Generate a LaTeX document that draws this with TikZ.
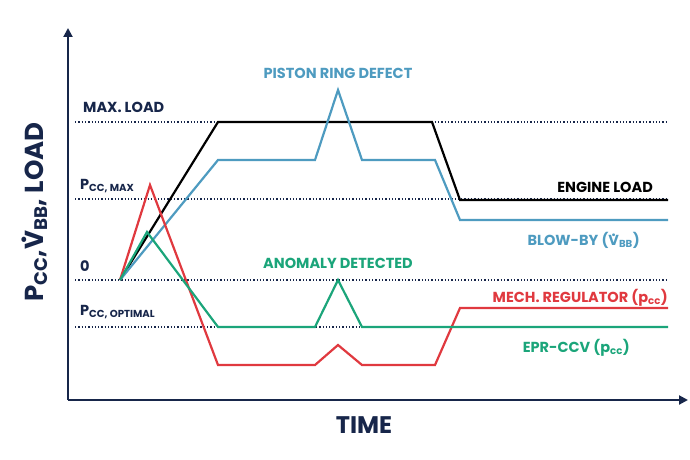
\documentclass[tikz,border=0pt]{standalone}
\usepackage{fontspec}
\setmainfont{Poppins}
\usetikzlibrary{arrows.meta}
\definecolor{navy}{HTML}{17264A}
\definecolor{cblue}{HTML}{4E9BC0}
\definecolor{cred}{HTML}{E0393F}
\definecolor{cgreen}{HTML}{1BA57A}
\newcommand{\vdotV}{\ooalign{V\cr\hidewidth\raisebox{0.62em}{.}\hidewidth\cr}}
\tikzset{
 lbl/.style={font=\bfseries\fontsize{14.5}{15}\selectfont, inner sep=0pt},
 dot/.style={navy, line width=1.3pt, dotted},
 curve/.style={line width=2.2pt, line join=miter},
 ax/.style={navy, line width=2pt, -{Triangle[length=9pt,width=9pt]}}
}
\begin{document}
\begin{tikzpicture}[x=1pt,y=-1pt]
\useasboundingbox (0,0) rectangle (690,460);
\coordinate (o) at (68,400);
\coordinate (ytop) at (68,28);
\coordinate (xend) at (688,400);
\draw[ax] (o) -- (ytop);
\draw[ax] (o) -- (xend);
\foreach \y in {122,199,280,327} \draw[dot] (75,\y) -- (668,\y);
\draw[curve,black] (120,280) -- (218,122) -- (432,122) -- (460,200) -- (668,200);
\draw[curve,cblue] (120,280) -- (218,160) -- (315,160) -- (338,90) -- (362,160) -- (435,160) -- (460,220) -- (668,220);
\draw[curve,cred] (120,280) -- (150,185) -- (218,365) -- (315,365) -- (338,345) -- (362,365) -- (435,365) -- (460,308) -- (668,308);
\draw[curve,cgreen] (120,280) -- (147,232) -- (218,327) -- (315,327) -- (338,280) -- (362,327) -- (668,327);
\node[lbl,navy,anchor=west] (ml) at (83,107) {MAX. LOAD};
\node[lbl,navy,anchor=west] (pm) at (80,186) {P\textsubscript{CC, MAX}};
\node[lbl,navy,anchor=west] (z) at (80,266) {0};
\node[lbl,navy,anchor=west] (po) at (80,312) {P\textsubscript{CC, OPTIMAL}};
\node[lbl,cblue] (prd) at (338,73) {PISTON RING DEFECT};
\node[lbl,cgreen] (ad) at (338,263) {ANOMALY DETECTED};
\node[lbl,black,anchor=east] (el) at (653,187) {ENGINE LOAD};
\node[lbl,cblue,anchor=east] (bb) at (640,240) {BLOW-BY (\vdotV\textsubscript{BB})};
\node[lbl,cred,anchor=east] (mr) at (668,298) {MECH. REGULATOR (p\textsubscript{cc})};
\node[lbl,cgreen,anchor=east] (ep) at (630,348) {EPR-CCV (p\textsubscript{cc})};
\node[navy,font=\bfseries\fontsize{24}{26}\selectfont] (t) at (364,425) {TIME};
\node[navy,rotate=90,font=\bfseries\fontsize{26}{28}\selectfont] (yl) at (36,212) {P\textsubscript{CC},\vdotV\textsubscript{BB}, LOAD};
\end{tikzpicture}
\end{document}
